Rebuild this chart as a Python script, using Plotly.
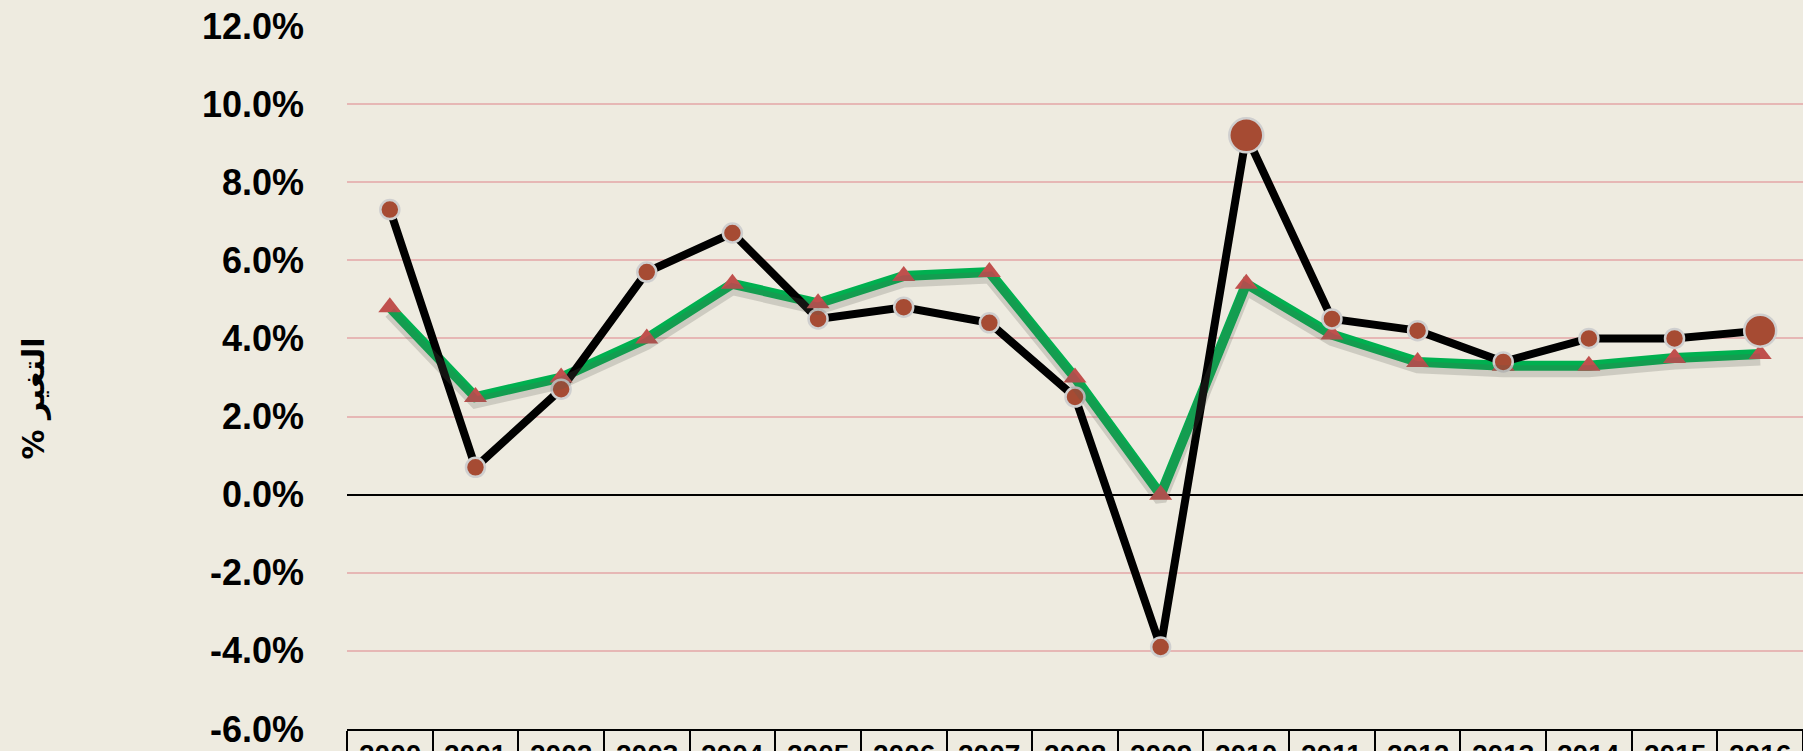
import plotly.graph_objects as go

years = [str(y) for y in range(2000, 2017)]
series_black = [7.3, 0.7, 2.7, 5.7, 6.7, 4.5, 4.8, 4.4, 2.5, -3.9, 9.2, 4.5, 4.2, 3.4, 4.0, 4.0, 4.2]
series_green = [4.8, 2.5, 3.0, 4.0, 5.4, 4.9, 5.6, 5.7, 3.0, 0.0, 5.4, 4.1, 3.4, 3.3, 3.3, 3.5, 3.6]
y_ticks = [-6, -4, -2, 0, 2, 4, 6, 8, 10, 12]
y_tick_text = [f"{v:.1f}%" for v in y_ticks]
y_title = "% التغير"

# style-only arrays
black_marker_sizes = [19, 19, 19, 19, 19, 19, 19, 19, 19, 19, 34, 19, 19, 19, 19, 19, 32]

BG = "#EEEBE0"
Y_MIN, Y_MAX = -6, 12
SHADOW_SHIFT = 0.14

fig = go.Figure()

# soft shadow under the green line (same data, on a slightly shifted overlay axis)
fig.add_trace(go.Scatter(
    x=years, y=series_green, mode="lines", yaxis="y2",
    line=dict(color="rgba(90,90,80,0.22)", width=12),
    hoverinfo="skip", showlegend=False,
))

fig.add_trace(go.Scatter(
    x=years, y=series_green, mode="lines",
    line=dict(color="#00B050", width=10),
    showlegend=False,
))

fig.add_trace(go.Scatter(
    x=years, y=series_black, mode="lines",
    line=dict(color="#000000", width=8),
    showlegend=False,
))

fig.add_trace(go.Scatter(
    x=years, y=series_green, mode="markers",
    marker=dict(symbol="triangle-up", size=20, color="#C0504D",
                line=dict(width=0)),
    showlegend=False,
))

fig.add_trace(go.Scatter(
    x=years, y=series_black, mode="markers",
    marker=dict(symbol="circle", size=black_marker_sizes, color="#A64B33",
                opacity=1, line=dict(color="#CFCFCF", width=2.5)),
    showlegend=False,
))

# year labels of the data-table axis (the table is cut by the bottom edge, as in the reference)
for i, yr in enumerate(years):
    fig.add_annotation(
        x=i, xref="x", y=0, yref="paper", yanchor="top", yshift=-8,
        text=yr, showarrow=False,
        font=dict(family="Liberation Sans", size=28, color="black", weight="bold"),
    )

# y-axis title
fig.add_annotation(
    x=-0.215, xref="paper", y=0.47, yref="paper",
    text=y_title, textangle=-90, showarrow=False,
    xanchor="center", yanchor="middle",
    font=dict(family="DejaVu Sans", size=30, color="black", weight="bold"),
)

fig.update_layout(
    width=1803, height=751, autosize=False,
    margin=dict(l=347, r=0, t=26, b=22, pad=0),
    paper_bgcolor=BG, plot_bgcolor=BG,
    showlegend=False,
    xaxis=dict(
        type="category", categoryarray=years, range=[-0.5, 16.5],
        showgrid=False, zeroline=False, automargin=False,
        showline=True, linecolor="black", linewidth=2,
        ticks="outside", tickson="boundaries", ticklen=22,
        tickwidth=2, tickcolor="black",
        showticklabels=False, fixedrange=True,
    ),
    yaxis=dict(
        range=[Y_MIN, Y_MAX], tickvals=y_ticks, ticktext=y_tick_text,
        tickfont=dict(family="Liberation Sans", size=36, color="black", weight="bold"),
        ticklabelstandoff=42, automargin=False,
        showgrid=True, gridcolor="#E6B7B5", gridwidth=2,
        zeroline=True, zerolinecolor="black", zerolinewidth=1.5,
        showline=False, ticks="",
    ),
    yaxis2=dict(
        range=[Y_MIN + SHADOW_SHIFT, Y_MAX + SHADOW_SHIFT],
        overlaying="y", showgrid=False, zeroline=False, automargin=False,
        showticklabels=False, showline=False, ticks="",
    ),
)

fig.write_html(
    "out.html",
    config={"displayModeBar": False},
    post_script="document.body.style.margin='0';document.body.style.overflow='hidden';",
)
